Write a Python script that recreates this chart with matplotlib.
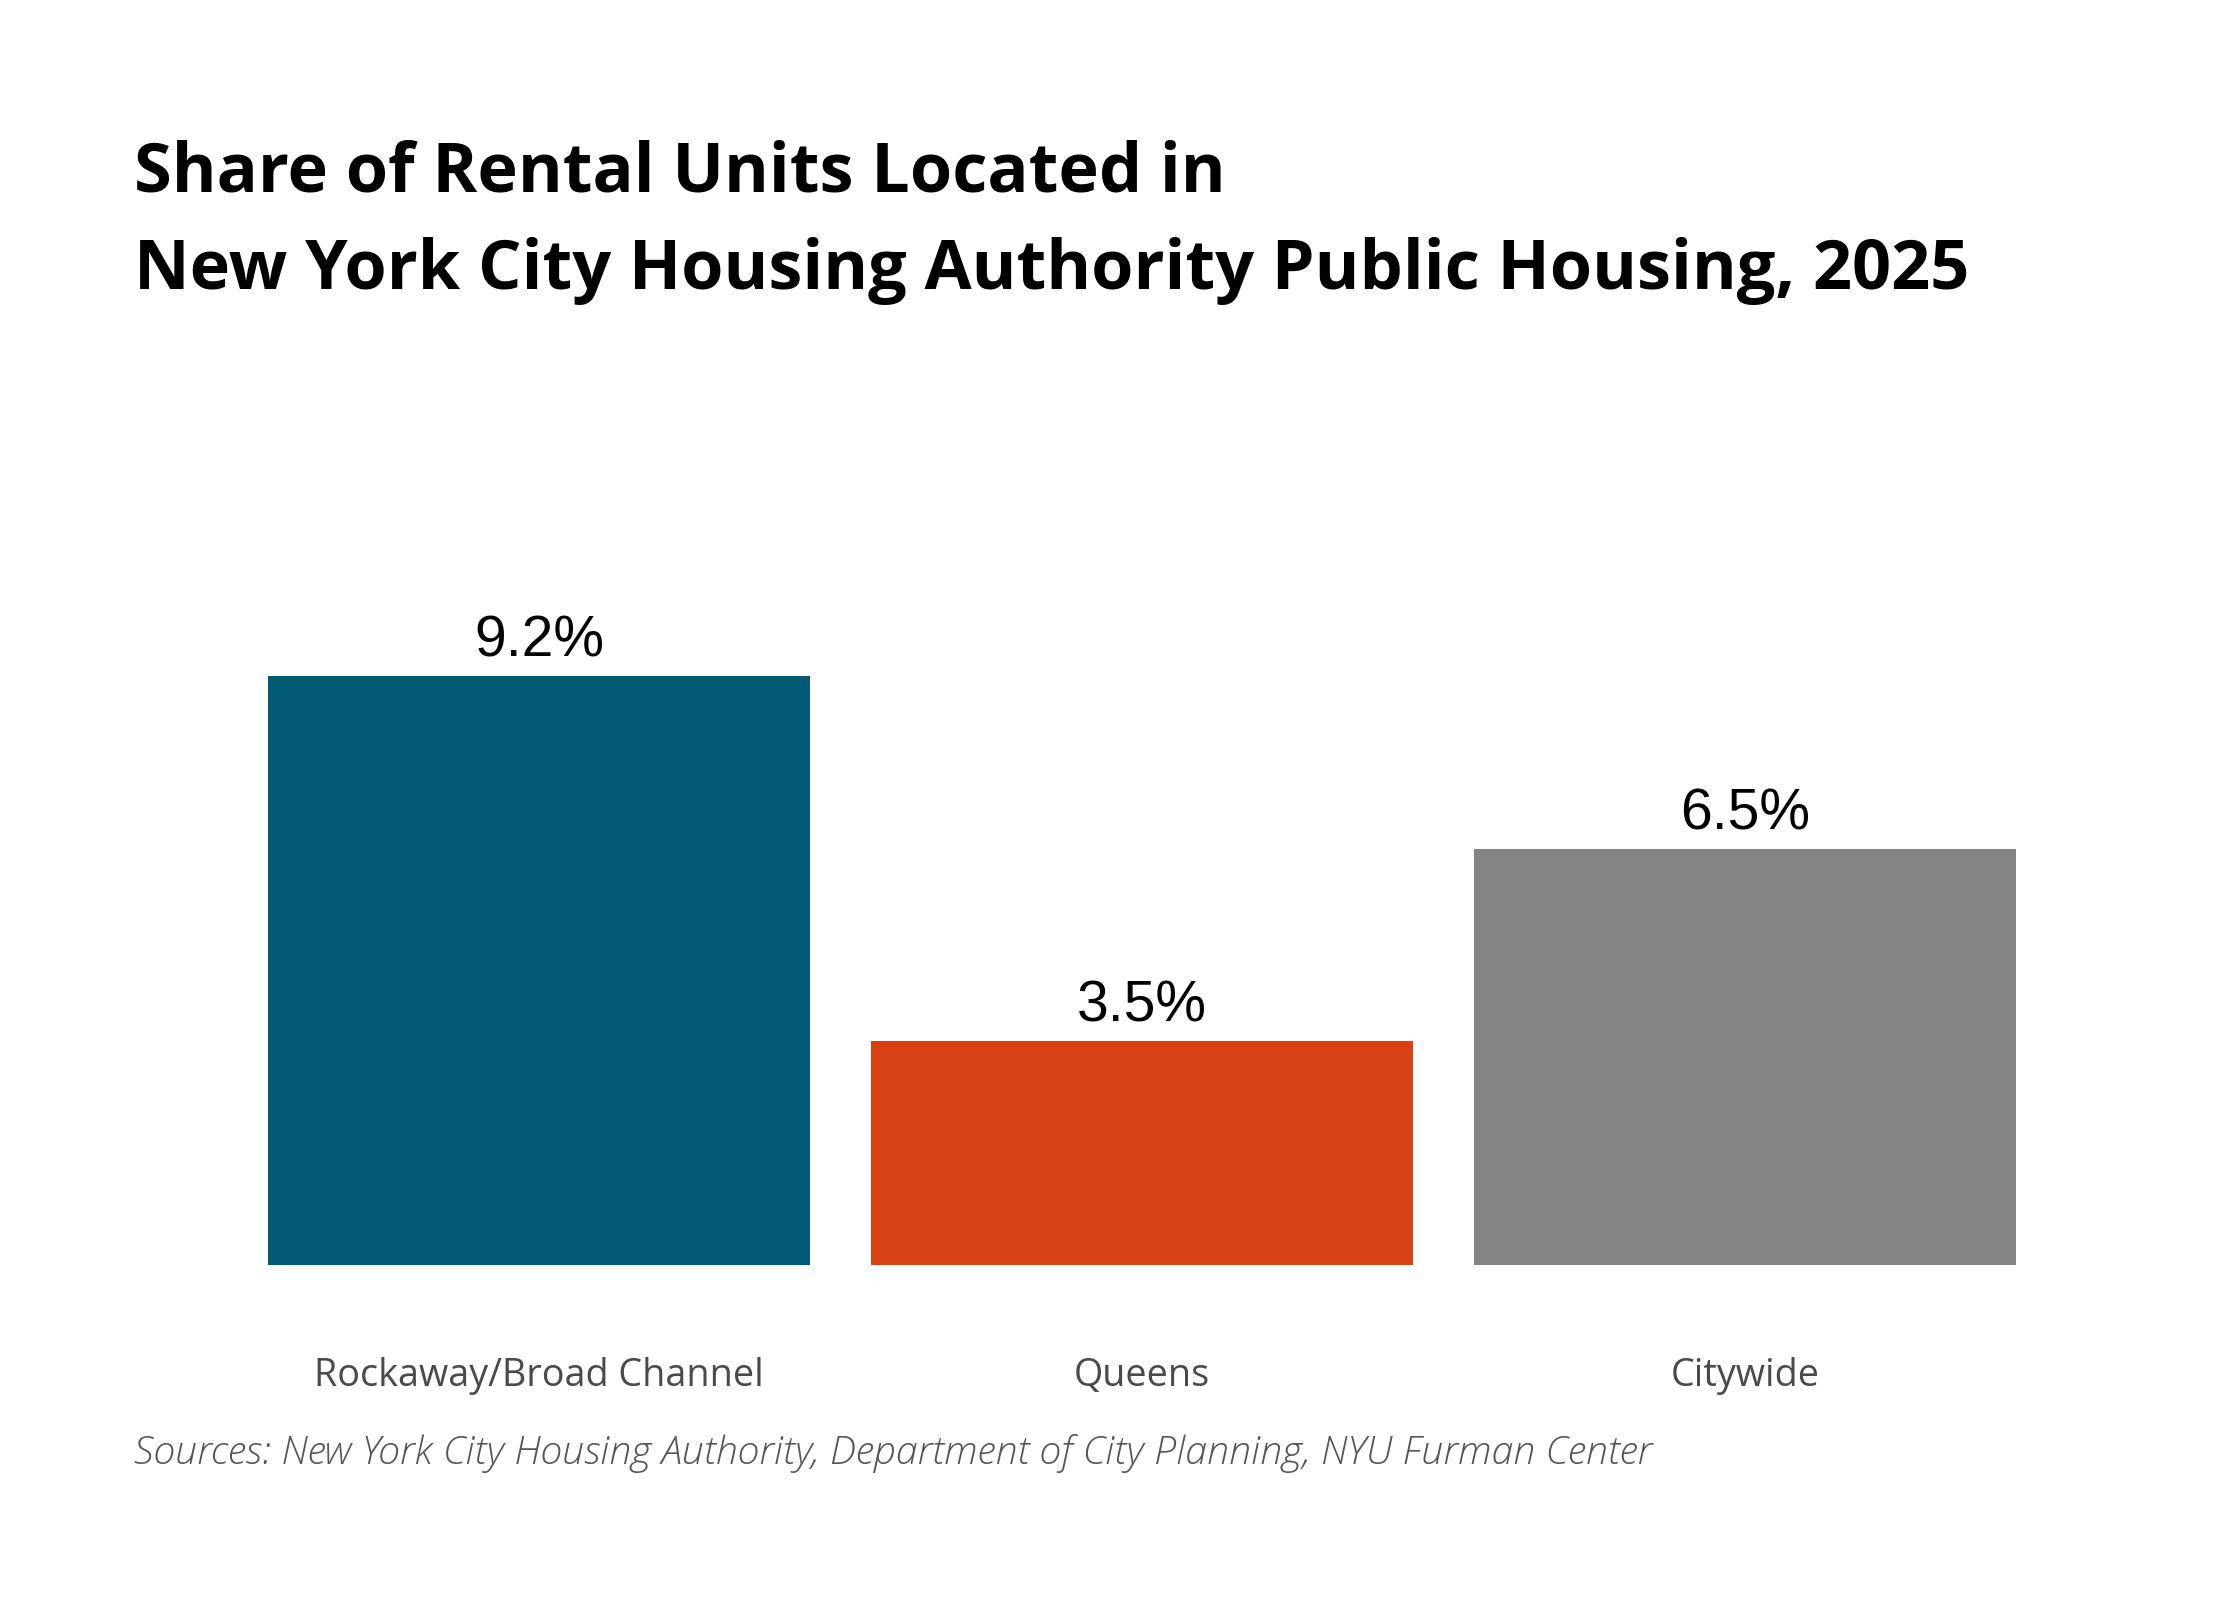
import matplotlib.pyplot as plt

areas = ["Rockaway/Broad Channel", "Queens", "Citywide"]
shares = [9.2, 3.5, 6.5]
bar_colors = ["#025a74", "#d84113", "#838486"]

title_lines = ["Share of Rental Units Located in",
               "New York City Housing Authority Public Housing, 2025"]
source = "Sources: New York City Housing Authority, Department of City Planning, NYU Furman Center"

fig = plt.figure(figsize=(11.2, 8), dpi=200)
fig.patch.set_facecolor('white')
ax = fig.add_axes([0.0791, 0.2094, 0.8614, 0.4])

x = range(len(areas))
bars = ax.bar(x, shares, width=0.9, color=bar_colors)
ax.set_xlim(-0.6, 2.6)
ax.set_ylim(0, 10)

for b, v in zip(bars, shares):
    ax.annotate(f"{v}%", (b.get_x() + b.get_width() / 2, v),
                xytext=(0, 7), textcoords='offset points',
                ha='center', va='baseline', fontsize=20.5,
                family='Liberation Sans', color='black')

ax.set_xticks(list(x), areas, fontsize=13.6, family='Open Sans', color='#4a4a4a')
ax.tick_params(axis='x', length=0, pad=33)
ax.set_yticks([])
for s in ax.spines.values():
    s.set_visible(False)

# title, one text per line so baselines can be placed
for line, base in zip(title_lines, [192, 289]):
    fig.text(134 / 2240, 1 - base / 1600, line, ha='left', va='baseline',
             fontsize=24.6, fontweight='bold', family='Open Sans', color='black')

fig.text(134 / 2240, 1 - 1464 / 1600, source, ha='left', va='baseline',
         fontsize=14.2, style='italic', fontweight='light', family='Open Sans',
         color='#555555')

fig.savefig('out.png', dpi=200)
